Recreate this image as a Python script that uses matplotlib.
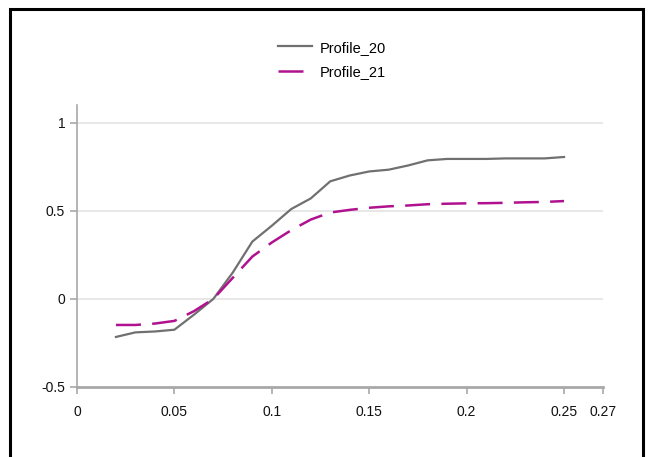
import matplotlib
matplotlib.use('Agg')
import matplotlib.pyplot as plt
from matplotlib.patches import Rectangle

plt.rcParams['font.family'] = ['Liberation Sans Narrow', 'Liberation Sans', 'DejaVu Sans']

x = [0.02, 0.03, 0.04, 0.05, 0.06, 0.07, 0.08, 0.09, 0.10, 0.11, 0.12, 0.13,
     0.14, 0.15, 0.16, 0.17, 0.18, 0.19, 0.20, 0.21, 0.22, 0.23, 0.24, 0.25]
profile_20 = [-0.216, -0.19, -0.185, -0.175, -0.09, 0.0, 0.15, 0.325, 0.415,
              0.51, 0.57, 0.667, 0.70, 0.723, 0.733, 0.757, 0.786, 0.794,
              0.794, 0.794, 0.797, 0.797, 0.797, 0.805]
profile_21 = [-0.148, -0.148, -0.14, -0.125, -0.07, 0.0, 0.12, 0.24, 0.32,
              0.39, 0.45, 0.49, 0.505, 0.517, 0.525, 0.53, 0.537, 0.54,
              0.542, 0.543, 0.545, 0.548, 0.55, 0.555]
xticks = [0, 0.05, 0.1, 0.15, 0.2, 0.25, 0.27]
xtick_labels = ['0', '0.05', '0.1', '0.15', '0.2', '0.25', '0.27']
yticks = [-0.5, 0, 0.5, 1]
ytick_labels = ['-0.5', '0', '0.5', '1']

fig = plt.figure(figsize=(6.48, 4.57), dpi=100)
ax = fig.add_axes([77 / 648, 1 - 387 / 457, (603 - 77) / 648, (387 - 105) / 457])

# grid
for yv in yticks[1:]:
    ax.axhline(yv, color='#e3e3e3', lw=1.2, zorder=0)

ax.plot(x, profile_20, color='#707070', lw=1.6, label='Profile_20')
ax.plot(x, profile_21, color='#b0128f', lw=1.8, dashes=(10, 4.5), label='Profile_21')

ax.set_xlim(0, 0.27)
ax.set_ylim(-0.5, 1.1)
ax.set_xticks(xticks)
ax.set_xticklabels(xtick_labels)
ax.set_yticks(yticks)
ax.set_yticklabels(ytick_labels)

for s in ['top', 'right']:
    ax.spines[s].set_visible(False)
ax.spines['left'].set_color('#a8a8a8')
ax.spines['left'].set_linewidth(1.2)
ax.spines['bottom'].set_color('#a8a8a8')
ax.spines['bottom'].set_linewidth(2)
ax.tick_params(axis='both', colors='#a8a8a8', labelcolor='#111111',
               labelsize=10, length=5, width=1.2)
ax.tick_params(axis='x', pad=8)

leg = fig.legend(loc='center', bbox_to_anchor=(332 / 648, 1 - 60 / 457),
                 frameon=False, fontsize=10.5, handlelength=2.3,
                 labelspacing=0.75, handletextpad=0.5)

# outer border
fig.patches.append(Rectangle((10 / 648, -0.01), (643 - 10) / 648, 1 - 9 / 457 + 0.01,
                             transform=fig.transFigure, fill=False,
                             edgecolor='black', lw=2.2))

fig.savefig('out.png', dpi=100)
